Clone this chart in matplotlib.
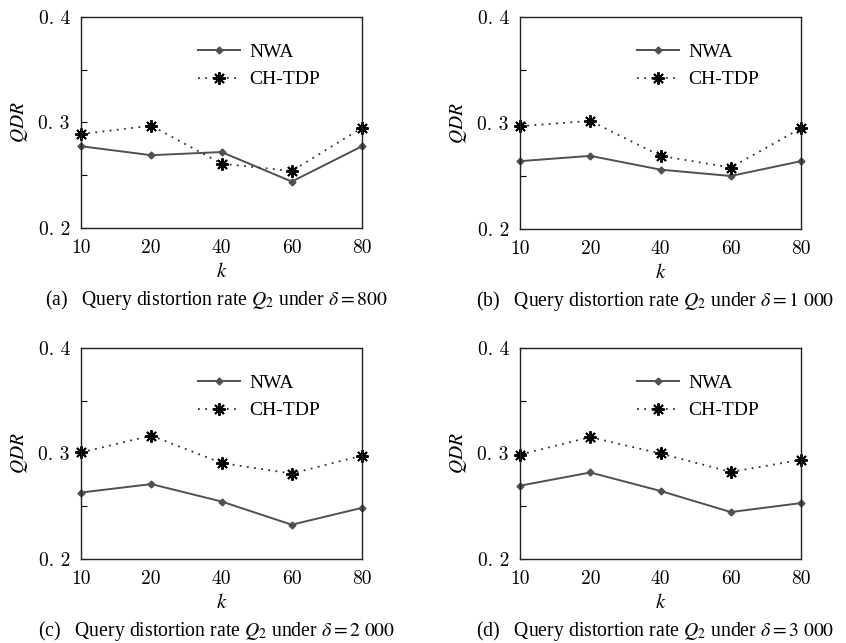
import matplotlib
matplotlib.use("Agg")
import matplotlib.pyplot as plt
from matplotlib.ticker import FixedLocator, MultipleLocator

plt.rcParams['font.family'] = ['Liberation Serif', 'DejaVu Serif']
plt.rcParams['mathtext.fontset'] = 'stix'

k_labels = ['10', '20', '40', '60', '80']
y_ticks = [0.2, 0.3, 0.4]
y_tick_labels = ['0. 2', '0. 3', '0. 4']

nwa_a = [0.2775, 0.269, 0.272, 0.244, 0.2775]
ch_a = [0.289, 0.297, 0.261, 0.254, 0.295]
nwa_b = [0.264, 0.269, 0.256, 0.250, 0.264]
ch_b = [0.297, 0.302, 0.269, 0.258, 0.295]
nwa_c = [0.263, 0.271, 0.2545, 0.2325, 0.2485]
ch_c = [0.301, 0.317, 0.291, 0.281, 0.298]
nwa_d = [0.2695, 0.282, 0.2645, 0.2445, 0.253]
ch_d = [0.299, 0.3155, 0.300, 0.2825, 0.294]

captions = [
    r'(a)   Query distortion rate $Q_2$ under $\delta = 800$',
    r'(b)   Query distortion rate $Q_2$ under $\delta = 1\ 000$',
    r'(c)   Query distortion rate $Q_2$ under $\delta = 2\ 000$',
    r'(d)   Query distortion rate $Q_2$ under $\delta = 3\ 000$',
]
panels = [(nwa_a, ch_a), (nwa_b, ch_b), (nwa_c, ch_c), (nwa_d, ch_d)]

W, H = 846, 643
# axes boxes in pixels: left, top, right, bottom
boxes = [(81, 17, 362, 228), (520, 17, 801, 229),
         (81, 348, 362, 559), (520, 348, 801, 559)]

fig = plt.figure(figsize=(W / 100, H / 100), dpi=100)

for (l, t, r, b), (nwa, ch), cap in zip(boxes, panels, captions):
    ax = fig.add_axes([l / W, 1 - b / H, (r - l) / W, (b - t) / H])
    x = list(range(len(k_labels)))
    ax.plot(x, nwa, color='#505050', lw=1.4, marker='D', ms=3.5,
            label='NWA', clip_on=False)
    ax.plot(x, ch, color='#303030', lw=1.3, ls=(0, (1, 3)),
            marker=(8, 2, 0), ms=9, mew=1.4, mec='black',
            label='CH-TDP', clip_on=False)
    ax.set_xlim(0, 4)
    ax.set_ylim(0.2, 0.4)
    ax.set_xticks(x)
    ax.set_xticklabels(k_labels, family='cmr10', fontsize=14)
    ax.yaxis.set_major_locator(FixedLocator(y_ticks))
    ax.set_yticklabels(y_tick_labels, family='cmr10', fontsize=14)
    ax.yaxis.set_minor_locator(MultipleLocator(0.05))
    ax.tick_params(axis='x', length=0, pad=8)
    ax.tick_params(axis='y', which='both', direction='in', length=4,
                   width=0.8, pad=8)
    for s in ax.spines.values():
        s.set_linewidth(1.0)
        s.set_color('#222222')
    ax.set_xlabel('$k$', fontsize=15, labelpad=4)
    ax.set_ylabel('$QDR$', fontsize=14, labelpad=6)
    ax.legend(loc='upper left', bbox_to_anchor=(0.416, 0.875), frameon=False,
              fontsize=14, handlelength=2.15, labelspacing=0.5,
              handletextpad=0.5, borderpad=0, borderaxespad=0)
    cx = (l + r) / 2 / W
    fig.text(cx - 5 / W, 1 - (b + 72) / H, cap, ha='center', va='center',
             fontsize=14.2)

fig.savefig('out.png', dpi=100)
